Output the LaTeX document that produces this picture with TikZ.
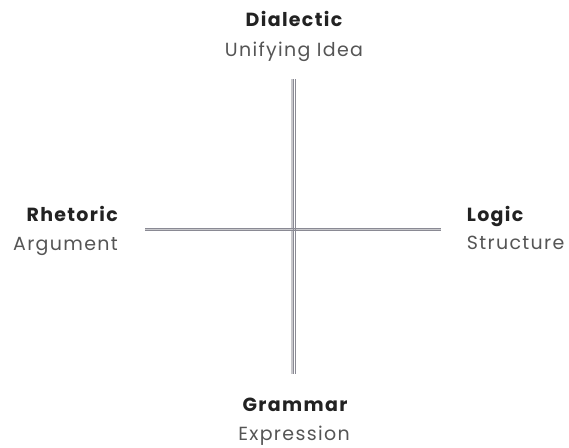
\documentclass[tikz,border=0pt]{standalone}
\usepackage{fontspec}
\setmainfont{Poppins}[LetterSpace=7]
\usetikzlibrary{positioning}
\definecolor{headtxt}{HTML}{222222}
\definecolor{subtxt}{HTML}{555555}
\definecolor{bandgray}{HTML}{C8C8CC}
\definecolor{railgray}{HTML}{8A8A94}

\tikzset{
    head/.style={font=\bfseries\fontsize{19}{22}\selectfont, text=headtxt, inner sep=0pt},
    sub/.style={font=\fontsize{19}{22}\selectfont, text=subtxt, inner sep=0pt},
}

\begin{document}
\begin{tikzpicture}[x=1pt,y=-1pt]
            \useasboundingbox (0,0) rectangle (569,447);
            % ends of the two crossing bars
            \coordinate (top) at (293.5,79);
            \coordinate (bot) at (293.5,374);
            \coordinate (lft) at (145,228);
            \coordinate (rgt) at (441,228);
            % light band under the bars
            \draw[bandgray, line width=3pt] ([xshift=-1pt]top) -- ([xshift=-1pt]bot);
            \draw[bandgray, line width=3pt] ([yshift=-1pt]lft) -- ([yshift=-1pt]rgt);
            % two thin rails
            \foreach \d in {0,2.2}{
                \draw[railgray, line width=0.8pt] ([xshift=\d pt]top) -- ([xshift=\d pt]bot);
                \draw[railgray, line width=0.8pt] ([yshift=-\d pt]lft) -- ([yshift=-\d pt]rgt);
            }
            % labels
            \node[head, anchor=base] (dialectic) at (294,26.7) {Dialectic};
            \node[sub, anchor=base] (unifying) at (294,56.7) {Unifying Idea};
            \node[head, anchor=base east] (rhetoric) at (118,221) {Rhetoric};
            \node[sub, anchor=base east] (argument) at (118,250) {Argument};
            \node[head, anchor=base west] (logic) at (466.7,221) {Logic};
            \node[sub, anchor=base west] (structure) at (466.7,249.5) {Structure};
            \node[head, anchor=base] (grammar) at (295,411) {Grammar};
            \node[sub, anchor=base] (expression) at (294,440) {Expression};
        \end{tikzpicture}
\end{document}
